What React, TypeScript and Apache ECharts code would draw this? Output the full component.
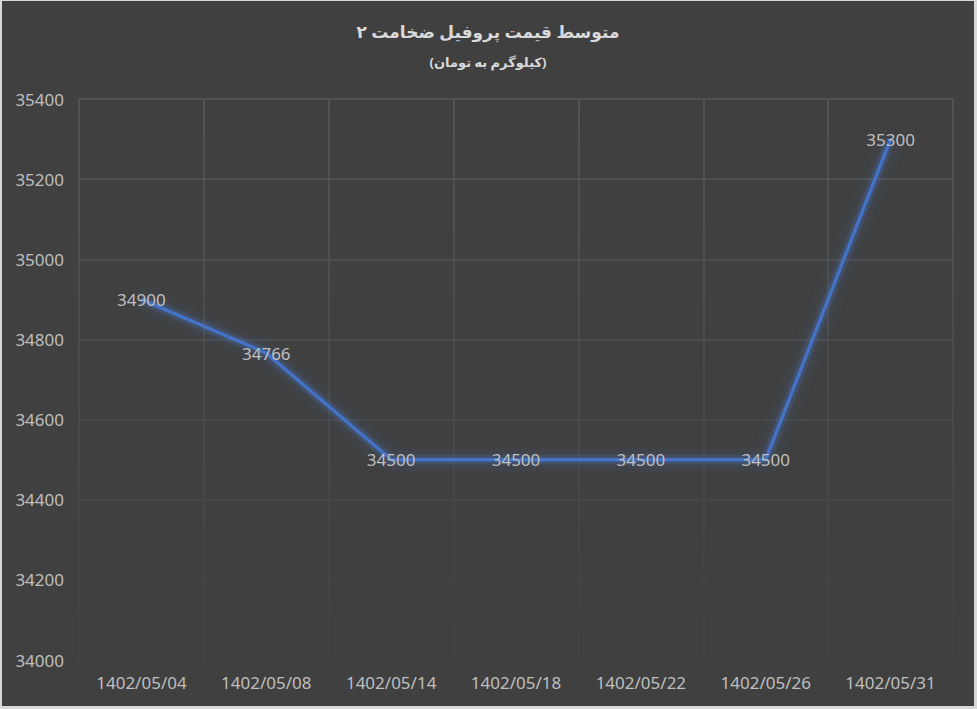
import React, { useEffect, useRef } from 'react';
import * as echarts from 'echarts';

const dates = ['1402/05/04', '1402/05/08', '1402/05/14', '1402/05/18', '1402/05/22', '1402/05/26', '1402/05/31'];
const prices = [34900, 34766, 34500, 34500, 34500, 34500, 35300];
// horizontal grid line colours, bottom (34000) to top (35400): they fade downwards
const hLineColors = ['#424242', '#454545', '#484848', '#4b4b4b', '#4f4f4f', '#525252', '#565656', '#595959'];

const FONT = '"Noto Sans", "DejaVu Sans", sans-serif';

const App: React.FC = () => {
  const chartRef = useRef<HTMLDivElement>(null);

  useEffect(() => {
    if (!chartRef.current) return;
    const chart = echarts.init(chartRef.current, null, { renderer: 'svg' });

    const option = {
      animation: false,
      backgroundColor: '#404040',
      textStyle: { fontFamily: FONT },
      title: {
        text: 'متوسط قیمت پروفیل ضخامت ۲',
        subtext: '(کیلوگرم به تومان)',
        left: 'center',
        top: 17,
        itemGap: 15,
        textStyle: { color: '#d9d9d9', fontSize: 17, fontWeight: 'bold', fontFamily: FONT },
        subtextStyle: { color: '#d9d9d9', fontSize: 13, fontWeight: 'bold', fontFamily: FONT }
      },
      grid: { left: 77, right: 21, top: 98, bottom: 46 },
      xAxis: {
        type: 'category',
        data: dates,
        boundaryGap: true,
        axisLine: { show: false },
        axisTick: { show: false },
        axisLabel: { color: '#bfbfbf', fontSize: 17, margin: 14, fontFamily: FONT },
        splitLine: {
          show: true,
          lineStyle: {
            width: 1.5,
            color: new echarts.graphic.LinearGradient(0, 98, 0, 659, [
              { offset: 0, color: '#595959' },
              { offset: 1, color: '#424242' }
            ], true)
          }
        }
      },
      yAxis: {
        type: 'value',
        min: 34000,
        max: 35400,
        interval: 200,
        axisLine: { show: false },
        axisTick: { show: false },
        axisLabel: {
          color: '#bfbfbf',
          fontSize: 17,
          margin: 15,
          fontFamily: FONT,
          formatter: (v: number) => String(v)
        },
        splitLine: { lineStyle: { width: 1.5, color: hLineColors } }
      },
      series: [
        {
          // soft glow under the line
          type: 'line',
          data: prices,
          symbol: 'none',
          silent: true,
          lineStyle: {
            color: 'rgba(68,114,196,0.22)',
            width: 10,
            shadowBlur: 14,
            shadowColor: 'rgba(68,114,196,1)'
          },
          z: 2
        },
        {
          type: 'line',
          data: prices,
          symbol: 'circle',
          symbolSize: 2,
          itemStyle: { color: '#4472c4' },
          lineStyle: { color: '#4472c4', width: 3.5 },
          label: {
            show: true,
            position: 'inside',
            color: '#bfbfbf',
            fontSize: 17,
            fontFamily: FONT
          },
          z: 3
        }
      ]
    };

    chart.setOption(option);
    return () => {
      chart.dispose();
    };
  }, []);

  return (
    <div style={{ position: 'fixed', left: 0, top: 0, width: 977, height: 709, background: '#d9d9d9' }}>
      <div ref={chartRef} style={{ position: 'absolute', left: 2, top: 1, width: 972, height: 705 }} />
    </div>
  );
};

export default App;
